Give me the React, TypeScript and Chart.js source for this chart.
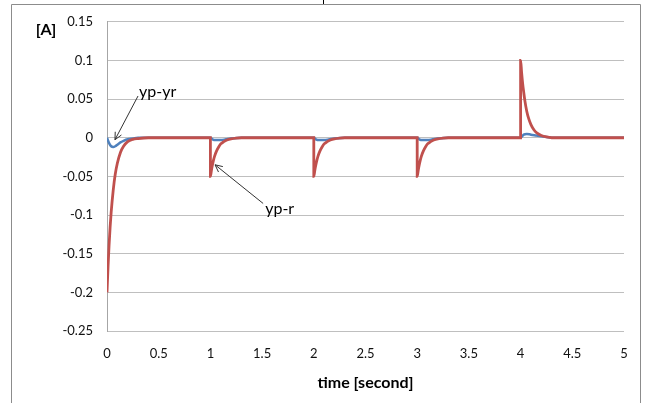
import React, { useEffect, useRef } from "react";
import { Chart, registerables } from "chart.js";

Chart.register(...registerables);

// ---- data ----
const xTicksMin = 0;
const xTicksMax = 5;
const xStep = 0.5;
const yMin = -0.25;
const yMax = 0.15;
const yStep = 0.05;

// yp-r (red)
const redTime = [
  0, 0.01, 0.02, 0.03, 0.04, 0.06, 0.08, 0.1, 0.13, 0.16, 0.2, 0.25, 0.3, 0.4,
  1, 1, 1.01, 1.02, 1.03, 1.04, 1.06, 1.08, 1.1, 1.13, 1.16, 1.2, 1.25, 1.3,
  2, 2, 2.01, 2.02, 2.03, 2.04, 2.06, 2.08, 2.1, 2.13, 2.16, 2.2, 2.25, 2.3,
  3, 3, 3.01, 3.02, 3.03, 3.04, 3.06, 3.08, 3.1, 3.13, 3.16, 3.2, 3.25, 3.3,
  4, 4, 4.01, 4.02, 4.03, 4.04, 4.06, 4.08, 4.1, 4.13, 4.16, 4.2, 4.25, 4.3,
  5,
];
const redValues = [
  -0.2, -0.167, -0.139, -0.116, -0.097, -0.068, -0.047, -0.033, -0.019, -0.011, -0.005, -0.002, -0.001, 0,
  0, -0.05, -0.042, -0.035, -0.029, -0.024, -0.017, -0.012, -0.008, -0.005, -0.003, -0.0015, -0.0005, 0,
  0, -0.05, -0.042, -0.035, -0.029, -0.024, -0.017, -0.012, -0.008, -0.005, -0.003, -0.0015, -0.0005, 0,
  0, -0.05, -0.042, -0.035, -0.029, -0.024, -0.017, -0.012, -0.008, -0.005, -0.003, -0.0015, -0.0005, 0,
  0, 0.1, 0.084, 0.07, 0.059, 0.049, 0.034, 0.024, 0.017, 0.01, 0.006, 0.003, 0.001, 0,
  0,
];

// yp-yr (blue)
const blueTime = [
  0, 0.02, 0.04, 0.06, 0.08, 0.1, 0.13, 0.16, 0.2, 0.25, 0.3,
  1, 1.02, 1.05, 1.1, 1.15, 1.2, 1.3,
  2, 2.02, 2.05, 2.1, 2.15, 2.2, 2.3,
  3, 3.02, 3.05, 3.1, 3.15, 3.2, 3.3,
  4, 4.03, 4.06, 4.1, 4.15, 4.2, 4.25, 4.32,
  5,
];
const blueValues = [
  0, -0.007, -0.011, -0.012, -0.011, -0.009, -0.006, -0.004, -0.002, -0.001, 0,
  0, -0.002, -0.003, -0.003, -0.002, -0.001, 0,
  0, -0.002, -0.003, -0.003, -0.002, -0.001, 0,
  0, -0.002, -0.003, -0.003, -0.002, -0.001, 0,
  0, 0.004, 0.005, 0.004, 0.003, 0.002, 0.001, 0,
  0,
];

const yUnit = "[A]";
const xTitle = "time [second]";
const annotations = [
  { text: "yp-yr", tip: [0.077, -0.0026], tail: [0.3, 0.054], label: [0.31, 0.059] },
  { text: "yp-r", tip: [1.045, -0.035], tail: [1.51, -0.085], label: [1.53, -0.092] },
];

const RED = "#C0504D";
const BLUE = "#4F81BD";
const FONT = "Lato";

const fmt = (v: number) => {
  const r = Math.round(v * 100) / 100;
  return r === 0 ? "0" : String(r);
};

const framePlugin = {
  id: "frame",
  beforeDraw(chart: any) {
    const ctx = chart.ctx;
    ctx.save();
    ctx.fillStyle = "#ffffff";
    ctx.fillRect(0, 0, chart.width, chart.height);
    ctx.strokeStyle = "#8c8c8c";
    ctx.lineWidth = 1;
    ctx.beginPath();
    ctx.moveTo(11.5, chart.height + 2);
    ctx.lineTo(11.5, 4.5);
    ctx.lineTo(640.5, 4.5);
    ctx.lineTo(640.5, chart.height + 2);
    ctx.stroke();
    ctx.strokeStyle = "#000";
    ctx.beginPath();
    ctx.moveTo(323.5, 0);
    ctx.lineTo(323.5, 4);
    ctx.stroke();
    ctx.restore();
  },
  afterDatasetsDraw(chart: any) {
    const ctx = chart.ctx;
    const xs = chart.scales.x;
    const ys = chart.scales.y;
    ctx.save();
    // y unit label
    ctx.fillStyle = "#000";
    ctx.font = `bold 16px ${FONT}`;
    ctx.textAlign = "center";
    ctx.textBaseline = "middle";
    ctx.fillText(yUnit, 46, 30);
    // annotations
    for (const a of annotations) {
      const tx = xs.getPixelForValue(a.tip[0]);
      const ty = ys.getPixelForValue(a.tip[1]);
      const sx = xs.getPixelForValue(a.tail[0]);
      const sy = ys.getPixelForValue(a.tail[1]);
      ctx.strokeStyle = "#333";
      ctx.lineWidth = 1;
      ctx.beginPath();
      ctx.moveTo(sx, sy);
      ctx.lineTo(tx, ty);
      const ang = Math.atan2(ty - sy, tx - sx);
      const L = 8;
      const w = 0.45;
      ctx.moveTo(tx - L * Math.cos(ang - w), ty - L * Math.sin(ang - w));
      ctx.lineTo(tx, ty);
      ctx.lineTo(tx - L * Math.cos(ang + w), ty - L * Math.sin(ang + w));
      ctx.stroke();
      ctx.fillStyle = "#000";
      ctx.font = `16px ${FONT}`;
      ctx.textAlign = "left";
      ctx.textBaseline = "middle";
      ctx.fillText(a.text, xs.getPixelForValue(a.label[0]), ys.getPixelForValue(a.label[1]));
    }
    ctx.restore();
  },
};

export default function App() {
  const ref = useRef<HTMLCanvasElement | null>(null);
  useEffect(() => {
    document.body.style.margin = "0";
    const canvas = ref.current!;
    const redData = redTime.map((t, i) => ({ x: t, y: redValues[i] }));
    const blueData = blueTime.map((t, i) => ({ x: t, y: blueValues[i] }));
    const chart = new Chart(canvas, {
      type: "line",
      data: {
        datasets: [
          {
            label: "yp-yr",
            data: blueData,
            borderColor: BLUE,
            borderWidth: 2.5,
            pointRadius: 0,
            cubicInterpolationMode: "monotone",
            order: 2,
          },
          {
            label: "yp-r",
            data: redData,
            borderColor: RED,
            borderWidth: 2.8,
            pointRadius: 0,
            cubicInterpolationMode: "monotone",
            order: 1,
          },
        ],
      },
      options: {
        responsive: false,
        animation: false,
        devicePixelRatio: 1,
        layout: { padding: { left: 0, top: 19, right: 22, bottom: 0 } },
        plugins: { legend: { display: false }, tooltip: { enabled: false } },
        scales: {
          x: {
            type: "linear",
            min: xTicksMin,
            max: xTicksMax,
            ticks: {
              stepSize: xStep,
              font: { family: FONT, size: 13 },
              color: "#111",
              padding: 15,
              maxRotation: 0,
              callback: (v: any) => fmt(Number(v)),
            },
            grid: { display: false, drawTicks: false },
            border: { display: false },
            title: {
              display: true,
              text: xTitle,
              font: { family: FONT, size: 16, weight: "bold" },
              color: "#000",
              padding: { top: 10, bottom: 11 },
            },
            afterFit: (s: any) => {
              s.height = 72;
            },
          },
          y: {
            min: yMin,
            max: yMax,
            ticks: {
              stepSize: yStep,
              font: { family: FONT, size: 13 },
              color: "#111",
              padding: 14,
              callback: (v: any) => fmt(Number(v)),
            },
            grid: { color: "#BFBFBF", lineWidth: 1, drawTicks: false },
            border: { display: true, color: "#A6A6A6" },
            afterFit: (s: any) => {
              s.width = 107;
            },
          },
        },
      } as any,
      plugins: [framePlugin],
    });
    return () => chart.destroy();
  }, []);
  return <canvas ref={ref} width={646} height={403} style={{ display: "block" }} />;
}
